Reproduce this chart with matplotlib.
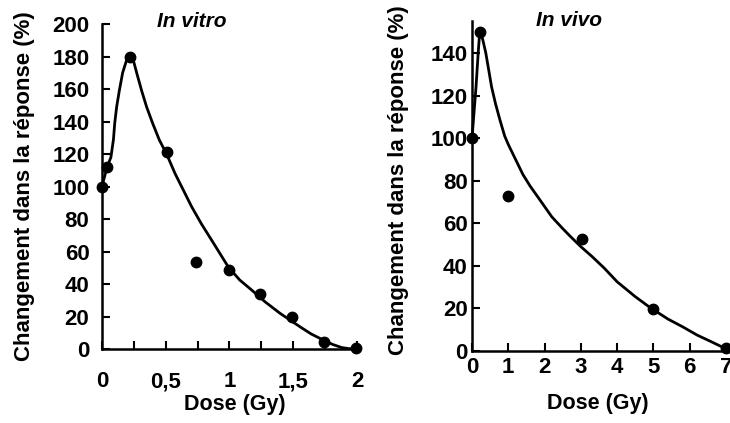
import matplotlib
matplotlib.use("Agg")
import matplotlib.pyplot as plt
from matplotlib.ticker import MultipleLocator, FixedLocator, FixedFormatter

plt.rcParams['font.family'] = ['Liberation Sans', 'DejaVu Sans']
plt.rcParams['font.weight'] = 'bold'

# In vitro: measured points and fitted curve
vitro_dose = [0, 0.04, 0.22, 0.51, 0.74, 1.0, 1.24, 1.49, 1.74, 1.99]
vitro_resp = [100, 112, 180, 121, 53.5, 48.5, 34, 19.5, 4.5, 0.8]
vitro_fit_dose = [0, 0.04, 0.07, 0.09, 0.10, 0.115, 0.136, 0.162, 0.19, 0.205,
                  0.22, 0.235, 0.25, 0.272, 0.311, 0.35, 0.397, 0.45, 0.507,
                  0.573, 0.64, 0.703, 0.78, 0.86, 0.99, 1.08, 1.174, 1.28,
                  1.396, 1.553, 1.64, 1.736, 1.81, 1.88, 1.94, 2.0]
vitro_fit_resp = [100, 112, 118, 129, 139, 149, 159, 170, 177, 179.3,
                  180, 179, 176.5, 170, 159, 149, 139, 128.6, 120,
                  108, 97.5, 87.6, 77, 67, 50.6, 42.5, 36.3, 29,
                  22, 13.7, 9.3, 5.5, 2.8, 0.9, 0.2, 0.5]

# In vivo: measured points and fitted curve
vivo_dose = [0, 0.22, 1.0, 3.02, 4.99, 7.0]
vivo_resp = [100, 150, 73, 52.5, 19.6, 1.5]
vivo_fit_dose = [0, 0.11, 0.17, 0.20, 0.22, 0.25, 0.30, 0.38, 0.46, 0.54,
                 0.65, 0.77, 0.9, 1.0, 1.2, 1.4, 1.6, 1.87, 2.2, 2.5, 2.7,
                 3.0, 3.3, 3.64, 4.0, 4.5, 4.9, 5.4, 5.8, 6.2, 6.6, 7.0]
vivo_fit_resp = [100, 124, 140, 147, 150, 149, 146, 140, 132, 124,
                 116, 108.5, 101, 97, 90, 83, 77.5, 71, 63, 57.5, 54,
                 49, 44.5, 39, 32.5, 25.5, 20.5, 15, 11.4, 7.5, 4.3, 1]

ylabel = 'Changement dans la réponse (%)'
xlabel = 'Dose (Gy)'

fig = plt.figure(figsize=(7.3, 4.23), dpi=100)
ax1 = fig.add_axes([0.1397, 0.1749, 0.3493, 0.7683])
ax2 = fig.add_axes([0.6466, 0.1702, 0.348, 0.780])

for ax in (ax1, ax2):
    for s in ('top', 'right'):
        ax.spines[s].set_visible(False)
    for s in ('left', 'bottom'):
        ax.spines[s].set_linewidth(1.8)
    ax.tick_params(which='both', direction='in', length=6, width=1.5,
                   labelsize=16)

# left panel
ax1.plot(vitro_fit_dose, vitro_fit_resp, color='black', lw=2.0, clip_on=False)
ax1.plot(vitro_dose, vitro_resp, 'o', color='black', ms=7.5, clip_on=False)
ax1.set_xlim(0, 2)
ax1.set_ylim(0, 200)
ax1.yaxis.set_major_locator(MultipleLocator(20))
ax1.xaxis.set_major_locator(FixedLocator([0, 0.5, 1, 1.5, 2]))
ax1.xaxis.set_major_formatter(FixedFormatter(['0', '0,5', '1', '1,5', '2']))
ax1.xaxis.set_minor_locator(MultipleLocator(0.25))
ax1.tick_params(axis='x', pad=16)
ax1.tick_params(axis='y', pad=9)
ax1.set_ylabel(ylabel, fontsize=16, fontweight='bold')
ax1.yaxis.set_label_coords(-0.302, 0.5)
ax1.yaxis.label.set_va('center')
ax1.set_xlabel(xlabel, fontsize=15.5, fontweight='bold')
ax1.xaxis.set_label_coords(0.522, -0.172)
ax1.xaxis.label.set_va('center')
ax1.text(0.353, 1.009, 'In vitro', transform=ax1.transAxes, ha='center',
         va='center', fontsize=15, fontstyle='italic', fontweight='bold')

# right panel
ax2.plot(vivo_fit_dose, vivo_fit_resp, color='black', lw=2.0, clip_on=False)
ax2.plot(vivo_dose, vivo_resp, 'o', color='black', ms=7.5, clip_on=False)
ax2.set_xlim(0, 7)
ax2.set_ylim(0, 155)
ax2.yaxis.set_major_locator(FixedLocator(list(range(0, 141, 20))))
ax2.xaxis.set_major_locator(MultipleLocator(1))
ax2.tick_params(axis='x', pad=4)
ax2.tick_params(axis='y', pad=3)
ax2.set_ylabel(ylabel, fontsize=16, fontweight='bold')
ax2.yaxis.set_label_coords(-0.291, 0.518)
ax2.yaxis.label.set_va('center')
ax2.set_xlabel(xlabel, fontsize=15.5, fontweight='bold')
ax2.xaxis.set_label_coords(0.496, -0.158)
ax2.xaxis.label.set_va('center')
ax2.text(0.382, 1.003, 'In vivo', transform=ax2.transAxes, ha='center',
         va='center', fontsize=15, fontstyle='italic', fontweight='bold')

fig.savefig('out.png', dpi=100)
plt.close(fig)
